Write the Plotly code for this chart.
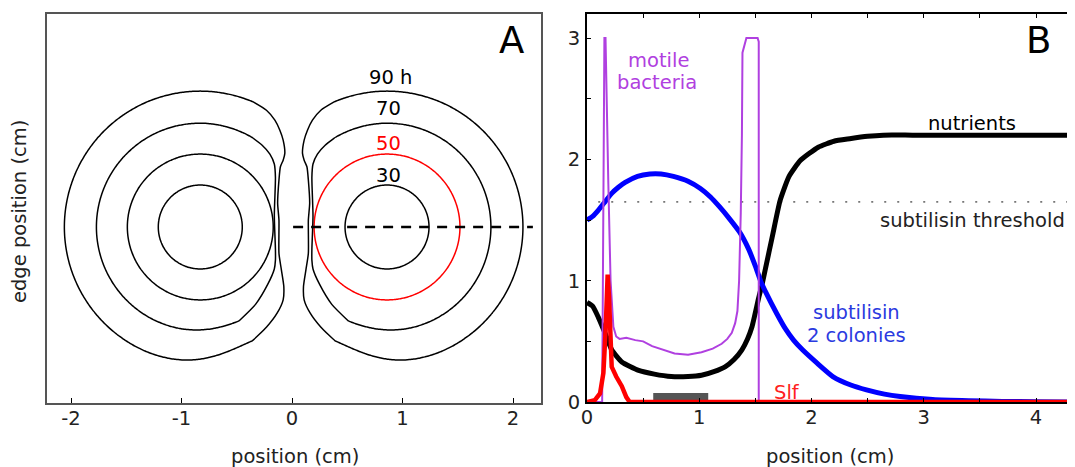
import numpy as np
import plotly.graph_objects as go

W, H = 1075, 467
OX, OY = 8, 8          # page offset of the figure inside the browser window
FONT = "DejaVu Sans"
FS = 19.5

# ---------------- Panel A data (cm) ----------------
colony_x = [-0.83, 0.86]                 # colony centres
ring_text = ["30", "50", "70", "90 h"]
ring_radius = [0.38, 0.66, 0.94, 1.23]
right_ring_color = ["black", "red", "black", "black"]
ring_label_x = [0.869, 0.869, 0.869, 0.887]
ring_label_y = [0.462, 0.760, 1.068, 1.357]

# deformed fronts where the two colonies meet (right colony, offsets from its centre)
front70_dx = [-0.47, -0.56, -0.63, -0.67, -0.68, -0.67, -0.68, -0.68, -0.67, -0.61, -0.50, -0.35]
front70_dy = [0.81, 0.74, 0.66, 0.57, 0.45, 0.10, -0.20, -0.30, -0.38, -0.52, -0.70, -0.85]
front90_dx = [-0.479, -0.599, -0.675, -0.720, -0.750, -0.765, -0.750, -0.725, -0.712, -0.700,
              -0.712, -0.712, -0.734, -0.756, -0.750, -0.695, -0.600, -0.470]
front90_dy = [1.132, 1.057, 0.967, 0.876, 0.786, 0.666, 0.605, 0.545, 0.425, 0.214,
              0.063, -0.238, -0.388, -0.539, -0.659, -0.780, -0.905, -1.030]
cut_line_x = [0.01, 2.18]

# ---------------- Panel B data ----------------
nutr_x = [0, 0.05, 0.10, 0.16, 0.22, 0.31, 0.46, 0.60, 0.75, 0.90, 1.02, 1.13, 1.23, 1.31,
          1.38, 1.43, 1.47, 1.53, 1.56, 1.59, 1.65, 1.72, 1.80, 1.90, 2.06, 2.20, 2.34, 2.50,
          2.64, 2.90, 3.50, 4.35]
nutr_y = [0.82, 0.79, 0.70, 0.57, 0.43, 0.33, 0.26, 0.23, 0.21, 0.21, 0.22, 0.25, 0.29, 0.35,
          0.43, 0.52, 0.62, 0.86, 0.97, 1.10, 1.36, 1.66, 1.86, 1.99, 2.10, 2.15, 2.17, 2.19,
          2.20, 2.20, 2.20, 2.20]

sub_x = [0, 0.05, 0.10, 0.16, 0.22, 0.28, 0.34, 0.45, 0.56, 0.66, 0.77, 0.90, 1.01, 1.10,
         1.18, 1.27, 1.36, 1.44, 1.50, 1.55, 1.59, 1.69, 1.77, 1.84, 1.92, 2.05, 2.19, 2.35,
         2.49, 2.65, 2.79, 3.08, 3.40, 3.70, 4.00, 4.35]
sub_y = [1.50, 1.53, 1.58, 1.65, 1.72, 1.77, 1.81, 1.86, 1.88, 1.88, 1.86, 1.82, 1.76, 1.69,
         1.61, 1.51, 1.40, 1.26, 1.12, 0.99, 0.91, 0.73, 0.60, 0.51, 0.43, 0.32, 0.21, 0.14,
         0.10, 0.065, 0.045, 0.02, 0.01, 0.005, 0.002, 0.0]

mot_x = [0, 0.135, 0.155, 0.165, 0.19, 0.21, 0.235, 0.26, 0.29, 0.35, 0.43, 0.50, 0.58, 0.68,
         0.78, 0.90, 1.02, 1.12, 1.20, 1.25, 1.29, 1.32, 1.34, 1.355, 1.37, 1.38, 1.385, 1.42,
         1.52, 1.53, 1.53, 4.35]
mot_y = [0, 0, 3.0, 3.0, 1.8, 1.0, 0.62, 0.54, 0.52, 0.53, 0.51, 0.50, 0.46, 0.43,
         0.40, 0.39, 0.41, 0.44, 0.48, 0.52, 0.57, 0.65, 0.75, 1.0, 1.56, 2.2, 2.88, 3.0,
         3.0, 2.97, 0, 0]

slf_x = [0, 0.07, 0.116, 0.146, 0.166, 0.175, 0.184, 0.196, 0.205, 0.22, 0.26, 0.31, 0.35, 0.38, 4.35]
slf_y = [0, 0.016, 0.07, 0.24, 0.59, 0.87, 1.05, 0.87, 0.51, 0.29, 0.21, 0.13, 0.04, 0, 0]

threshold_y = 1.65
threshold_x = [0.10, 4.35]
gray_bar_x = [0.59, 1.08]
gray_bar_h = 0.075

PURPLE = "#b040e0"

# ---------------- helpers ----------------
def ring_path(cx, side, R, dx=None, dy=None):
    if dx is None:
        t = np.linspace(0, 2 * np.pi, 241)
        return cx + R * np.cos(t), R * np.sin(t)
    dx = np.asarray(dx, float)
    dy = np.asarray(dy, float)
    t0 = np.arctan2(dy[-1], dx[-1])
    t1 = np.arctan2(dy[0], dx[0])
    r0 = np.hypot(dx[-1], dy[-1])
    r1 = np.hypot(dx[0], dy[0])
    t = np.linspace(t0, t1, 240)
    w0 = np.exp(-((t - t0) / 0.42) ** 2)
    w1 = np.exp(-((t - t1) / 0.42) ** 2)
    r = R + (r0 - R) * w0 + (r1 - R) * w1
    px = np.concatenate([r * np.cos(t), dx])
    py = np.concatenate([r * np.sin(t), dy])
    return cx + side * px, py

fig = go.Figure()

# Panel A rings
fronts = {2: (front70_dx, front70_dy), 3: (front90_dx, front90_dy)}
for ci, cx in enumerate(colony_x):
    side = -1 if ci == 0 else 1
    for ri, R in enumerate(ring_radius):
        dx, dy = fronts.get(ri, (None, None))
        xs, ys = ring_path(cx, side, R, dx, dy)
        col = "black" if ci == 0 else right_ring_color[ri]
        fig.add_trace(go.Scatter(x=xs, y=ys, mode="lines", xaxis="x", yaxis="y",
                                 line=dict(color=col, width=1.5, shape="spline", smoothing=0.6),
                                 hoverinfo="skip", showlegend=False))

fig.add_trace(go.Scatter(x=cut_line_x, y=[0, 0], mode="lines", xaxis="x", yaxis="y",
                         line=dict(color="black", width=2.5, dash="10px,8px"),
                         showlegend=False))

# Panel B curves
fig.add_trace(go.Scatter(x=threshold_x, y=[threshold_y] * 2, mode="lines", xaxis="x2", yaxis="y2",
                         line=dict(color="#777777", width=1.8, dash="2px,11px"), showlegend=False))
fig.add_trace(go.Scatter(x=nutr_x, y=nutr_y, mode="lines", xaxis="x2", yaxis="y2",
                         line=dict(color="black", width=5, shape="spline", smoothing=0.5),
                         showlegend=False))
fig.add_trace(go.Scatter(x=sub_x, y=sub_y, mode="lines", xaxis="x2", yaxis="y2",
                         line=dict(color="#0000ff", width=5, shape="spline", smoothing=0.5),
                         showlegend=False))
fig.add_trace(go.Scatter(x=mot_x, y=mot_y, mode="lines", xaxis="x2", yaxis="y2",
                         line=dict(color=PURPLE, width=2), showlegend=False))
fig.add_trace(go.Scatter(x=slf_x, y=slf_y, mode="lines", xaxis="x2", yaxis="y2",
                         line=dict(color="#ff0000", width=4.5), showlegend=False))

# geometry of the panels (window pixels)
ax_l, ax_r = 47, 541
bx_l, bx_r = 587, 1075
top, a_bot, b_bot = 14, 403, 402
a_zero_px, a_scale = 292, 110.5
a_yzero_px = 227
b_xscale, b_yscale = 112.25, 121.3

def fx(p):   # window x pixel -> paper fraction
    return (p - OX) / W

def fy(p):   # window y pixel -> paper fraction
    return 1 - (p - OY) / H

xa_range = [(ax_l - a_zero_px) / a_scale, (ax_r - a_zero_px) / a_scale]
ya_range = [(a_yzero_px - a_bot) / a_scale, (a_yzero_px - top) / a_scale]
xb_range = [0, (bx_r - bx_l) / b_xscale]
yb_range = [0, (b_bot - top) / b_yscale]

tickfont = dict(family=FONT, size=FS, color="#222222")

fig.update_layout(
    template="none",
    width=W, height=H, margin=dict(l=0, r=0, t=0, b=0, pad=0, autoexpand=False),
    paper_bgcolor="white", plot_bgcolor="white", showlegend=False,
    font=dict(family=FONT, size=FS, color="black"),
    xaxis=dict(domain=[fx(ax_l), fx(ax_r)], range=xa_range, anchor="y", automargin=False,
               tickmode="array", tickvals=[-2, -1, 0, 1, 2], ticktext=["-2", "-1", "0", "1", "2"],
               ticks="inside", ticklen=5, tickwidth=1.2, tickcolor="black",
               showline=True, mirror=True, linecolor="#555555", linewidth=1.5,
               showgrid=False, zeroline=False, tickfont=tickfont, ticklabelstandoff=-3),
    yaxis=dict(domain=[fy(a_bot), fy(top)], range=ya_range, anchor="x", automargin=False,
               showticklabels=False, ticks="", showline=True, mirror=True,
               linecolor="#555555", linewidth=1.5, showgrid=False, zeroline=False),
    xaxis2=dict(domain=[fx(bx_l), fx(bx_r)], range=xb_range, anchor="y2", automargin=False,
                tick0=0, dtick=1, ticks="inside", ticklen=4, tickwidth=1, tickcolor="black",
                minor=dict(dtick=0.5, ticks="inside", ticklen=4, tickwidth=1, tickcolor="black",
                           showgrid=False),
                showline=True, mirror="ticks", linecolor="black", linewidth=2,
                showgrid=False, zeroline=False, tickfont=tickfont, ticklabelstandoff=-3),
    yaxis2=dict(domain=[fy(b_bot), fy(top)], range=yb_range, anchor="x2", automargin=False,
                tick0=0, dtick=1, ticks="inside", ticklen=4, tickwidth=1, tickcolor="black",
                minor=dict(dtick=0.5, ticks="inside", ticklen=4, tickwidth=1, tickcolor="black",
                           showgrid=False),
                showline=True, mirror="ticks", linecolor="black", linewidth=2,
                showgrid=False, zeroline=False, tickfont=tickfont, ticklabelstandoff=1),
    shapes=[dict(type="rect", xref="x2", yref="y2", x0=gray_bar_x[0], x1=gray_bar_x[1],
                 y0=0, y1=gray_bar_h, fillcolor="#555555", line=dict(width=0), layer="below")],
)

def note(text, x, y, xref, yref, color, size=FS, angle=0):
    return dict(text=text, x=x, y=y, xref=xref, yref=yref, showarrow=False,
                xanchor="center", yanchor="middle", textangle=angle,
                font=dict(family=FONT, size=size, color=color))

ann = []
for txt, x, y, col in zip(ring_text, ring_label_x, ring_label_y, right_ring_color):
    ann.append(note(txt, x, y, "x", "y", col))
ann.append(note("A", 1.982, 1.692, "x", "y", "black", size=37))
ann.append(note("B", 4.02, 2.98, "x2", "y2", "black", size=37))
b_labels = [("motile", 0.633, 2.815, PURPLE), ("bacteria", 0.625, 2.635, PURPLE),
            ("nutrients", 3.43, 2.30, "black"), ("subtilisin threshold", 3.43, 1.50, "#222222"),
            ("subtilisin", 2.40, 0.735, "#2a3ae0"), ("2 colonies", 2.40, 0.55, "#2a3ae0"),
            ("Slf", 1.78, 0.08, "#ff2020")]
for txt, x, y, col in b_labels:
    ann.append(note(txt, x, y, "x2", "y2", col))
ann.append(note("position (cm)", fx(295), fy(456), "paper", "paper", "#222222"))
ann.append(note("position (cm)", fx(830), fy(456), "paper", "paper", "#222222"))
ann.append(note("edge position (cm)", fx(20), fy(212), "paper", "paper", "#222222", angle=-90))
fig.update_layout(annotations=ann)

fig.write_html("out.html")
